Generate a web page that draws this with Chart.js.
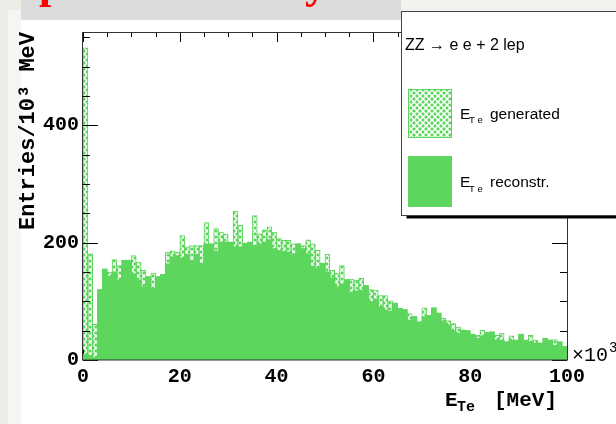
<!DOCTYPE html>
<html>
<head>
<meta charset="utf-8">
<script src="https://cdn.jsdelivr.net/npm/chart.js@4.4.1/dist/chart.umd.min.js"></script>
<style>
  html, body { margin: 0; padding: 0; background: #ffffff; overflow: hidden; }
  #wrap { width: 616px; height: 424px; position: relative; }
</style>
</head>
<body>
<div id="wrap"><canvas id="c" width="616" height="424"></canvas></div>
<script>
// Electron transverse energy, 100 bins of 1 (x10^3 MeV) from 0 to 100
const binCenters = Array.from({ length: 100 }, (_, i) => i + 0.5);

const generated = [
  532, 181, 61, 120, 155, 150, 171, 161, 170, 170,
  178, 167, 153, 142, 148, 142, 146, 184, 186, 184,
  212, 193, 195, 195, 195, 234, 198, 224, 218, 215,
  201, 254, 230, 199, 201, 246, 215, 222, 227, 218,
  207, 204, 204, 198, 198, 195, 205, 198, 187, 165,
  180, 153, 148, 161, 137, 138, 136, 139, 127, 120,
  119, 110, 110, 101, 97, 88, 86, 79, 74, 65,
  89, 76, 89, 80, 71, 67, 62, 56, 51, 50,
  44, 42, 51, 47, 48, 42, 46, 31, 41, 34,
  44, 34, 42, 34, 29, 37, 34, 35, 31, 23
];

const reconstructed = [
  10, 8, 4, 120, 155, 143, 150, 136, 170, 170,
  147, 136, 125, 142, 122, 142, 146, 164, 176, 178,
  173, 180, 170, 180, 165, 198, 198, 185, 201, 201,
  201, 193, 193, 199, 201, 195, 198, 201, 205, 190,
  187, 185, 184, 181, 198, 190, 181, 160, 156, 165,
  150, 140, 125, 130, 137, 116, 118, 119, 127, 100,
  104, 90, 85, 83, 97, 88, 86, 68, 74, 65,
  74, 76, 89, 80, 65, 60, 50, 46, 51, 50,
  44, 37, 40, 47, 48, 34, 34, 31, 34, 34,
  44, 34, 31, 29, 29, 37, 34, 25, 31, 23
];

const xTickValues = [0, 20, 40, 60, 80, 100];
const xTickLabels = ['0', '20', '40', '60', '80', '100'];
const yTickValues = [0, 200, 400];
const yTickLabels = ['0', '200', '400'];
const xMinorStep = 5, xMajorStep = 20;
const yMinorStep = 50, yMajorStep = 200, yTop = 559;

const GREEN = '#5cd65c';
const MONO = '"Liberation Mono", "DejaVu Sans Mono", monospace';
const SANS = '"Liberation Sans", Arial, sans-serif';

const canvas = document.getElementById('c');
const ctx = canvas.getContext('2d');

// green fill with a white cross-hatch for the generated spectrum
function makeHatch(context) {
  const t = document.createElement('canvas');
  t.width = 6; t.height = 6;
  const g = t.getContext('2d');
  g.fillStyle = GREEN;
  g.fillRect(0, 0, 6, 6);
  g.strokeStyle = '#ffffff';
  g.lineWidth = 1.5;
  g.beginPath();
  g.moveTo(-1, -1); g.lineTo(7, 7);
  g.moveTo(7, -1); g.lineTo(-1, 7);
  g.stroke();
  return context.createPattern(t, 'repeat');
}
const hatch = makeHatch(ctx);

// page background, slide header strip and clipped heading
const backdrop = {
  id: 'backdrop',
  beforeDraw(chart) {
    const c = chart.ctx;
    c.save();
    c.fillStyle = '#ececE7';
    c.fillRect(0, 0, 616, 424);
    c.fillStyle = '#f5f5f1';
    c.fillRect(8, 10, 14, 414);
    c.fillStyle = '#f2f2ee';
    c.fillRect(401, 0, 215, 12);
    c.fillStyle = '#ffffff';
    c.fillRect(21, 20, 595, 404);
    c.fillStyle = '#dcdcdc';
    c.fillRect(21, 0, 380, 20);
    c.fillStyle = '#ff0000';
    c.font = 'bold 44px "Liberation Serif", serif';
    c.textBaseline = 'alphabetic';
    c.textAlign = 'left';
    c.fillText('p', 39, -2.5);
    c.fillText('y', 305, -2.5);
    c.restore();
  }
};

function drawTicks(chart) {
  const c = chart.ctx;
  const { left, right, top, bottom } = chart.chartArea;
  const xs = chart.scales.x, ys = chart.scales.y;
  c.save();
  c.strokeStyle = '#000000';
  c.lineWidth = 1;
  c.beginPath();
  for (let v = xs.min; v <= xs.max; v += xMinorStep) {
    const px = Math.round(xs.getPixelForValue(v)) + 0.5;
    const len = v % xMajorStep === 0 ? 10 : 5;
    c.moveTo(px, bottom); c.lineTo(px, bottom - len);
    c.moveTo(px, top); c.lineTo(px, top + len);
  }
  for (let v = ys.min; v <= ys.max; v += yMinorStep) {
    const py = Math.round(ys.getPixelForValue(v)) + 0.5;
    const len = v % yMajorStep === 0 ? 15 : 7;
    c.moveTo(left, py); c.lineTo(left + len, py);
    c.moveTo(right, py); c.lineTo(right - len, py);
  }
  c.stroke();
  c.restore();
}

const frame = {
  id: 'frame',
  beforeDatasetDraw(chart, args) {
    // ticks sit above the hatched spectrum but under the solid one
    if (args.index === 0) drawTicks(chart);
  },
  afterDatasetsDraw(chart) {
    const c = chart.ctx;
    const { left, right, top, bottom } = chart.chartArea;
    c.save();
    c.strokeStyle = '#333333';
    c.lineWidth = 1;
    c.strokeRect(Math.round(left) - 0.5, Math.round(top) + 0.5,
                 Math.round(right - left) + 1, Math.round(bottom - top) - 0.5);
    c.restore();
  },
  afterDraw(chart) {
    const c = chart.ctx;
    const { right, bottom } = chart.chartArea;
    c.save();
    c.fillStyle = '#000000';
    c.textAlign = 'left';
    c.textBaseline = 'alphabetic';

    // x-axis title E_Te [MeV]
    c.font = 'bold 21px ' + MONO;
    c.fillText('E', right - 122, bottom + 46);
    c.font = 'bold 15px ' + MONO;
    c.fillText('Te', right - 110, bottom + 51);
    c.font = 'bold 21px ' + MONO;
    c.fillText('[MeV]', right - 73, bottom + 46);

    // axis multiplier
    c.font = '20px ' + MONO;
    c.fillText('\u00d710', right + 5, bottom + 1);
    c.font = '14px ' + MONO;
    c.fillText('3', right + 42, bottom - 8);

    // legend box with drop shadow
    const bx = 401.5, by = 11.5, bw = 240, bh = 204;
    c.fillStyle = '#000000';
    c.fillRect(bx + 5, by + bh, bw, 3);
    c.fillStyle = '#ffffff';
    c.fillRect(bx, by, bw, bh);
    c.strokeStyle = '#444444';
    c.lineWidth = 1;
    c.strokeRect(bx, by, bw, bh);

    c.fillStyle = '#000000';
    c.font = '16px ' + SANS;
    c.fillText('ZZ \u2192 e e + 2 lep', 405, 50);

    c.fillStyle = hatch;
    c.fillRect(409, 90, 42, 47);
    c.strokeStyle = GREEN;
    c.strokeRect(408.5, 89.5, 43, 48);

    c.fillStyle = GREEN;
    c.fillRect(408, 156, 44, 51);

    c.fillStyle = '#000000';
    c.font = '15.5px ' + SANS;
    c.fillText('E', 460, 118.5);
    c.font = '9.5px ' + SANS;
    c.fillText('T e', 469, 123);
    c.font = '15.5px ' + SANS;
    c.fillText('generated', 490, 118.5);

    c.fillText('E', 460, 187);
    c.font = '9.5px ' + SANS;
    c.fillText('T e', 469, 191.5);
    c.font = '15.5px ' + SANS;
    c.fillText('reconstr.', 490, 187);
    c.restore();
  }
};

new Chart(ctx, {
  type: 'bar',
  data: {
    datasets: [
      {
        label: 'E_Te reconstr.',
        data: reconstructed.map((v, i) => ({ x: binCenters[i], y: v })),
        backgroundColor: GREEN,
        borderWidth: 0,
        grouped: false,
        barPercentage: 1,
        categoryPercentage: 1,
        order: 1
      },
      {
        label: 'E_Te generated',
        data: generated.map((v, i) => ({ x: binCenters[i], y: v })),
        backgroundColor: hatch,
        borderColor: GREEN,
        borderWidth: 1,
        borderSkipped: 'bottom',
        grouped: false,
        barPercentage: 1,
        categoryPercentage: 1,
        order: 2
      }
    ]
  },
  options: {
    responsive: false,
    animation: false,
    devicePixelRatio: 1,
    layout: { padding: { top: 32, right: 49, bottom: 0, left: 0 } },
    plugins: { legend: { display: false }, tooltip: { enabled: false } },
    scales: {
      x: {
        type: 'linear',
        min: 0,
        max: 100,
        offset: false,
        grid: { display: false, drawTicks: false },
        border: { display: false },
        afterBuildTicks: s => { s.ticks = xTickValues.map(v => ({ value: v })); },
        afterFit: s => { s.height = 64; },
        ticks: {
          autoSkip: false,
          maxRotation: 0,
          padding: 5,
          color: '#000000',
          font: { family: MONO, size: 20, weight: 'bold' },
          callback: v => { const k = xTickValues.indexOf(v); return k >= 0 ? xTickLabels[k] : ''; }
        }
      },
      y: {
        min: 0,
        max: yTop,
        grid: { display: false, drawTicks: false },
        border: { display: false },
        afterBuildTicks: s => { s.ticks = yTickValues.map(v => ({ value: v })); },
        afterFit: s => { s.width = 83; },
        ticks: {
          padding: 4,
          color: '#000000',
          font: { family: MONO, size: 20, weight: 'bold' },
          callback: v => { const k = yTickValues.indexOf(v); return k >= 0 ? yTickLabels[k] : ''; }
        },
        title: {
          display: true,
          text: 'Entries/10\u00b3 MeV',
          align: 'end',
          color: '#000000',
          font: { family: MONO, size: 22, weight: 'bold' },
          padding: { top: 15, bottom: 0 }
        }
      }
    }
  },
  plugins: [backdrop, frame]
});
</script>
</body>
</html>
